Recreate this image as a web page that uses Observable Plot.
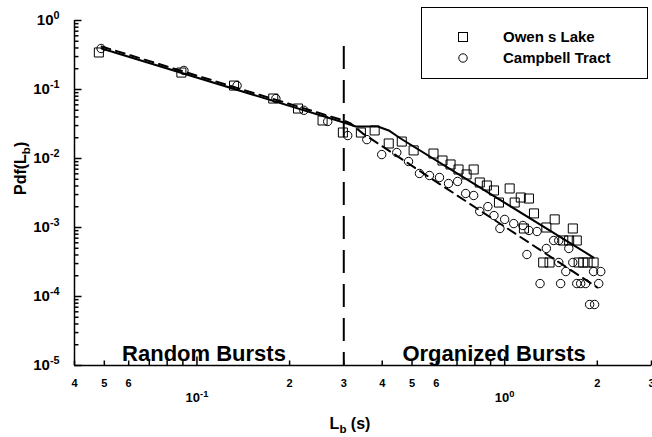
<!DOCTYPE html>
<html><head><meta charset="utf-8">
<script src="https://cdn.jsdelivr.net/npm/d3@7"></script>
<script src="https://cdn.jsdelivr.net/npm/@observablehq/plot@0.6"></script>
<style>
body{margin:0;background:#fff;}
#wrap{position:relative;width:652px;height:437px;font-family:"Liberation Sans",Arial,sans-serif;font-weight:bold;color:#000;}
#legend{position:absolute;left:421px;top:7px;width:227px;height:72px;border:1px solid #000;box-sizing:border-box;background:#fff;}
.lrow{position:absolute;left:0;width:100%;height:20px;}
.lrow svg{position:absolute;left:33px;top:0;}
.lrow span{position:absolute;left:81px;top:1px;font-size:15px;line-height:18px;white-space:nowrap;}
</style></head>
<body><div id="wrap"><div id="legend"></div></div>
<script>
// ---- data ----
const seriesNames = ["Owen s Lake", "Campbell Tract"];
const owensX = [0.048, 0.089, 0.132, 0.177, 0.213, 0.256, 0.298, 0.341, 0.378, 0.42, 0.463, 0.506, 0.587, 0.628, 0.667, 0.708, 0.752, 0.793, 0.83, 0.875, 0.923, 0.958, 1.038, 1.078, 1.128, 1.199, 1.245, 1.155, 1.366, 1.454, 1.665, 1.55, 1.62, 1.715, 1.334, 1.399, 1.74, 1.80, 1.86, 1.945];
const owensY = [0.344, 0.176, 0.114, 0.074, 0.053, 0.0356, 0.0238, 0.0238, 0.0255, 0.0165, 0.0176, 0.0131, 0.0118, 0.00935, 0.00819, 0.00693, 0.00587, 0.00693, 0.00449, 0.00406, 0.00344, 0.0023, 0.00368, 0.0023, 0.00272, 0.00263, 0.0016, 0.000968, 0.001, 0.00131, 0.000968, 0.000648, 0.000648, 0.000648, 0.000311, 0.000311, 0.000311, 0.000311, 0.000311, 0.000311];
const campbellX = [0.0488, 0.0907, 0.135, 0.1805, 0.2225, 0.266, 0.309, 0.3565, 0.3985, 0.446, 0.487, 0.5285, 0.5695, 0.614, 0.657, 0.703, 0.747, 0.793, 0.83, 0.882, 0.923, 0.965, 1.0, 1.07, 1.146, 1.199, 1.274, 1.181, 1.366, 1.443, 1.499, 1.499, 1.58, 1.616, 1.665, 1.303, 1.52, 1.715, 1.766, 1.832, 1.945, 2.052, 2.021, 1.888, 1.96];
const campbellY = [0.393, 0.189, 0.114, 0.074, 0.05, 0.0344, 0.0215, 0.0188, 0.0114, 0.0122, 0.00905, 0.00607, 0.00567, 0.00531, 0.00434, 0.00465, 0.00311, 0.00291, 0.00171, 0.00201, 0.00149, 0.000968, 0.00131, 0.00114, 0.00107, 0.000905, 0.000875, 0.000406, 0.000497, 0.000648, 0.000648, 0.000311, 0.00023, 0.000497, 0.000311, 0.000154, 0.000154, 0.000154, 0.000154, 0.000154, 0.00023, 0.00023, 0.000154, 0.0000766, 0.0000766];
const solidX = [0.049, 0.300, 0.328, 0.387, 0.420, 0.459, 1.945];
const solidY = [0.393, 0.0333, 0.0291, 0.0291, 0.0255, 0.0195, 0.000367];
const dashedX = [0.049, 0.300, 0.316, 0.346, 2.0];
const dashedY = [0.42, 0.0355, 0.0322, 0.023, 0.000135];
const breakX = 0.3;
const breakTop = 0.42;
const regionNames = ["Random Bursts", "Organized Bursts"];
const regionX = [0.1054, 0.924];
const yTicks = [1e-5, 1e-4, 1e-3, 1e-2, 1e-1, 1];
const yTickLabels = ["10^{-5}", "10^{-4}", "10^{-3}", "10^{-2}", "10^{-1}", "10^{0}"];
const xMajorTicks = [0.1, 1];
const xMajorLabels = ["10^{-1}", "10^{0}"];
const xMinorTicks = [0.04, 0.05, 0.06, 0.07, 0.08, 0.09, 0.2, 0.3, 0.4, 0.5, 0.6, 0.7, 0.8, 0.9, 2, 3];
const xLabeledMinor = [0.04, 0.05, 0.06, 0.2, 0.3, 0.4, 0.5, 0.6, 2, 3];
const xLabeledMinorText = ["4", "5", "6", "2", "3", "4", "5", "6", "2", "3"];
const xTitle = "L_{b} (s)";
const yTitle = "Pdf(L_{b})";

// ---- derived tables ----
const owens = owensX.map((x, i) => ({x, y: owensY[i]}));
const campbell = campbellX.map((x, i) => ({x, y: campbellY[i]}));
const solid = solidX.map((x, i) => ({x, y: solidY[i]}));
const dashed = dashedX.map((x, i) => ({x, y: dashedY[i]}));
const yMinorTicks = yTicks.slice(0, -1).flatMap(d => [2,3,4,5,6,7,8,9].map(k => d * k));

const W = 652, H = 437, ML = 74, MR = 1, MT = 20, MB = 72;

// tick glyphs as custom dot symbols (a short stroke pointing into the frame)
const hTick = len => ({draw(ctx) { ctx.moveTo(0, 0); ctx.lineTo(len, 0); }});
const vTick = len => ({draw(ctx) { ctx.moveTo(0, 0); ctx.lineTo(0, -len); }});
const tk = {stroke: "black", strokeWidth: 1.5, fill: "none"};

const chart = Plot.plot({
  width: W, height: H,
  marginLeft: ML, marginRight: MR, marginTop: MT, marginBottom: MB,
  x: {type: "log", domain: [0.04, 3], axis: null},
  y: {type: "log", domain: [1e-5, 1], axis: null},
  style: {fontFamily: "'Liberation Sans', Arial, sans-serif", fontWeight: "bold", color: "black", background: "white", overflow: "visible"},
  marks: [
    Plot.ruleX([0.04], {strokeWidth: 1.5}),
    Plot.ruleY([1e-5], {strokeWidth: 1.5}),
    Plot.dot(yMinorTicks, {y: d => d, frameAnchor: "left", symbol: hTick(4), r: 4, ...tk}),
    Plot.dot(yTicks, {y: d => d, frameAnchor: "left", symbol: hTick(7), r: 4, ...tk}),
    Plot.dot(xMinorTicks, {x: d => d, frameAnchor: "bottom", symbol: vTick(5), r: 4, ...tk}),
    Plot.dot(xMajorTicks, {x: d => d, frameAnchor: "bottom", symbol: vTick(9), r: 4, ...tk}),
    // tick labels
    Plot.text(yTicks, {y: d => d, text: (d, i) => yTickLabels[i], frameAnchor: "left", dx: -15, textAnchor: "end", lineAnchor: "middle", fontSize: 15}),
    Plot.text(xLabeledMinor, {x: d => d, text: (d, i) => xLabeledMinorText[i], frameAnchor: "bottom", dy: 14, lineAnchor: "top", fontSize: 11}),
    Plot.text(xMajorTicks, {x: d => d, text: (d, i) => xMajorLabels[i], frameAnchor: "bottom", dy: 27, lineAnchor: "top", fontSize: 13}),
    // titles
    Plot.text([yTitle], {frameAnchor: "left", dx: -54, dy: 2, rotate: -90, fontSize: 16, lineAnchor: "middle"}),
    Plot.text([xTitle], {frameAnchor: "bottom", dx: -13, dy: 58, fontSize: 16, lineAnchor: "middle"}),
    Plot.text(regionNames, {x: (d, i) => regionX[i], frameAnchor: "bottom", dy: -5, fontSize: 22, lineAnchor: "bottom"}),
    // data
    Plot.ruleX([breakX], {y1: breakTop, y2: 1e-5, strokeWidth: 2, strokeDasharray: "23,11"}),
    Plot.line(solid, {x: "x", y: "y", strokeWidth: 2, stroke: "black"}),
    Plot.line(dashed, {x: "x", y: "y", strokeWidth: 2, stroke: "black", strokeDasharray: "9,6"}),
    Plot.dot(owens, {x: "x", y: "y", symbol: "square", r: 5.1, stroke: "black", fill: "none", strokeWidth: 1}),
    Plot.dot(campbell, {x: "x", y: "y", symbol: "circle", r: 4.2, stroke: "black", fill: "none", strokeWidth: 1})
  ]
});

// rich text: ^{..} superscript, _{..} subscript
const NS = "http://www.w3.org/2000/svg";
chart.querySelectorAll("text").forEach(t => {
  const s = t.textContent;
  if (!/[_^]\{/.test(s)) return;
  t.textContent = "";
  const re = /([_^])\{([^}]*)\}/g;
  let last = 0, m, restore = null;
  const addPlain = str => {
    if (!str) return;
    const ts = document.createElementNS(NS, "tspan");
    if (restore) { ts.setAttribute("dy", restore); restore = null; }
    ts.textContent = str; t.appendChild(ts);
  };
  while ((m = re.exec(s))) {
    addPlain(s.slice(last, m.index));
    const ts = document.createElementNS(NS, "tspan");
    ts.setAttribute("font-size", "0.72em");
    if (m[1] === "^") { ts.setAttribute("dy", "-0.55em"); restore = "0.396em"; }
    else { ts.setAttribute("dy", "0.4em"); restore = "-0.288em"; }
    ts.textContent = m[2]; t.appendChild(ts);
    last = re.lastIndex;
  }
  addPlain(s.slice(last));
});

const wrap = document.getElementById("wrap");
wrap.insertBefore(chart, wrap.firstChild);

// legend
const legend = document.getElementById("legend");
const rowTops = [19, 40];
seriesNames.forEach((name, i) => {
  const row = document.createElement("div");
  row.className = "lrow";
  row.style.top = rowTops[i] + "px";
  const sym = i === 0
    ? '<svg width="16" height="20"><rect x="3.5" y="5.5" width="9" height="9" fill="none" stroke="#000" stroke-width="1"/></svg>'
    : '<svg width="16" height="20"><circle cx="8" cy="10" r="4.2" fill="none" stroke="#000" stroke-width="1"/></svg>';
  row.innerHTML = sym + "<span></span>";
  row.querySelector("span").textContent = name;
  legend.appendChild(row);
});
</script>
</body></html>
